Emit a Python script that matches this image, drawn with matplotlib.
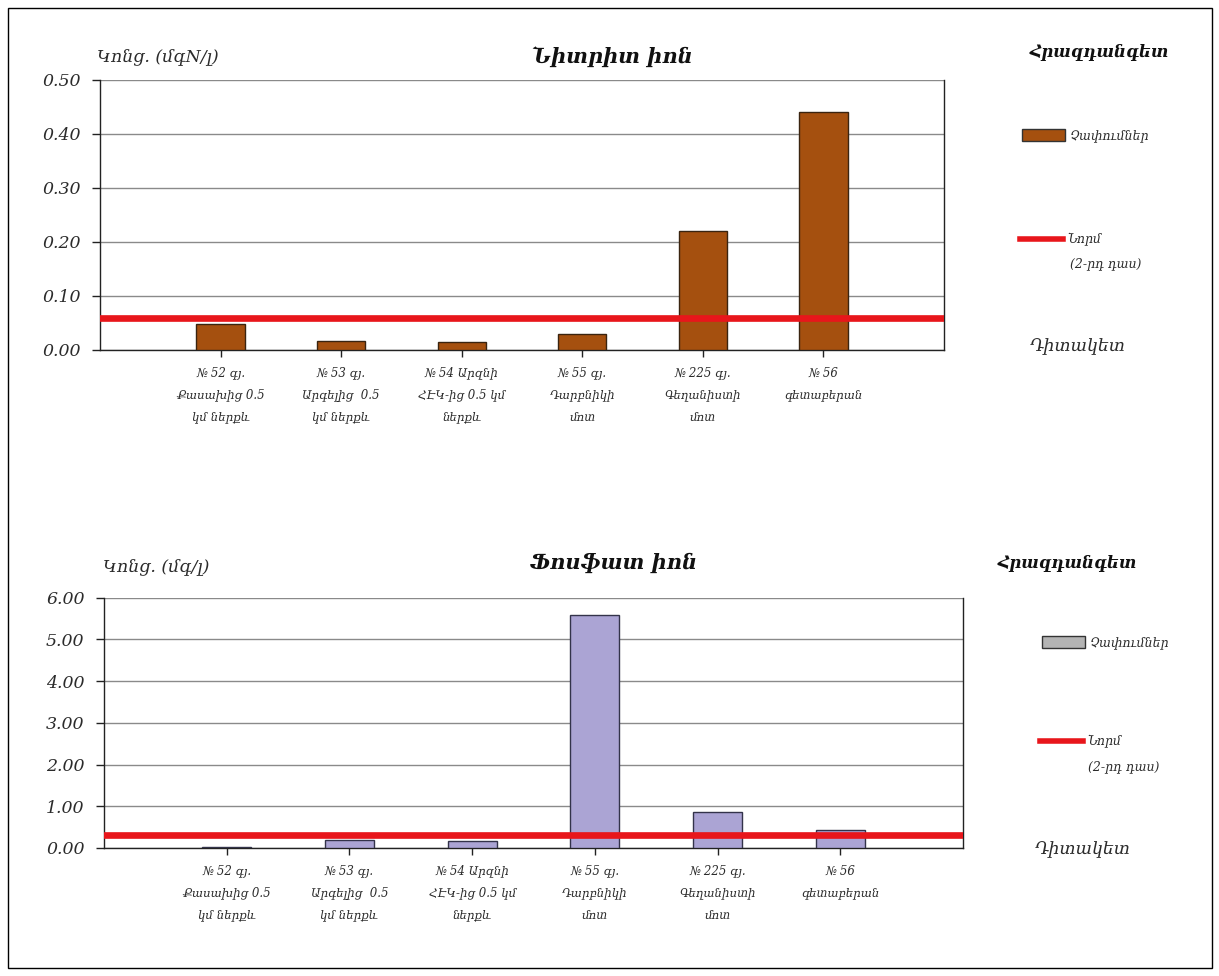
import numpy as np
import matplotlib
matplotlib.use("Agg")
import matplotlib.pyplot as plt
from matplotlib.patches import Rectangle, Patch
from matplotlib.lines import Line2D

plt.rcParams['font.family'] = ['DejaVu Serif', 'DejaVu Sans']

# Monitoring points along the Hrazdan river
stations = [
    "№ 52 գյ.\nՔասախից 0.5\nկմ ներքև",
    "№ 53 գյ.\nԱրգելից  0.5\nկմ ներքև",
    "№ 54 Արզնի\nՀԷԿ-ից 0.5 կմ\nներքև",
    "№ 55 գյ.\nԴարբնիկի\nմոտ",
    "№ 225 գյ.\nԳեղանիստի\nմոտ",
    "№ 56\nգետաբերան",
]

# Nitrite ion, mgN/l
nitrite = [0.048, 0.017, 0.014, 0.030, 0.22, 0.44]
nitrite_norm = 0.06
nitrite_ticks = [0.0, 0.1, 0.2, 0.3, 0.4, 0.5]

# Phosphate ion, mg/l
phosphate = [0.03, 0.20, 0.17, 5.58, 0.86, 0.42]
phosphate_norm = 0.30
phosphate_ticks = [0.0, 1.0, 2.0, 3.0, 4.0, 5.0, 6.0]

W, H = 1219, 976
fig = plt.figure(figsize=(W / 100, H / 100), dpi=100)
fig.patch.set_facecolor("white")

# outer frame
fig.patches.append(Rectangle((8 / W, 8 / H), 1204 / W, 960 / H, transform=fig.transFigure,
                             fill=False, edgecolor="black", linewidth=1.0))

TXT = "#2b2b2b"
RED = "#E8161B"


def fx(px):
    return px / W


def fy(py):
    return 1 - py / H


def panel(rect, values, norm, ticks, bar_color, bar_edge, title, ylabel,
          title_xy, ylabel_xy, legend_title_xy, legend_patch_color, legend_bar_xy,
          legend_norm_xy, norm_note_xy, xtitle_xy):
    ax = fig.add_axes(rect)
    x = np.arange(1, len(values) + 1)
    ax.bar(x, values, width=0.4, color=bar_color, edgecolor=bar_edge, linewidth=1.0, zorder=3)
    ax.axhline(norm, color=RED, linewidth=4.8, zorder=4)

    ax.set_xlim(0, len(values) + 1)
    ax.set_ylim(ticks[0], ticks[-1])
    ax.set_yticks(ticks)
    ax.set_yticklabels([f"{t:.2f}" for t in ticks], fontsize=12.5, style="italic", color=TXT)
    ax.set_xticks(x)
    ax.set_xticklabels(stations, fontsize=8.5, style="italic", color=TXT, linespacing=1.9)

    ax.yaxis.grid(True, color="#8a8a8a", linewidth=1.0, zorder=0)
    ax.set_axisbelow(True)
    ax.spines["top"].set_visible(False)
    for s in ("left", "bottom", "right"):
        ax.spines[s].set_color("#222222")
        ax.spines[s].set_linewidth(1.0)
    ax.tick_params(axis="y", direction="out", length=6, width=1, pad=8, color="#222222")
    ax.tick_params(axis="x", direction="out", length=5, width=1, pad=7, color="#222222")

    fig.text(fx(title_xy[0]), fy(title_xy[1]), title, ha="center", va="center",
             fontsize=15, fontweight="bold", style="italic", color="#111111")
    fig.text(fx(ylabel_xy[0]), fy(ylabel_xy[1]), ylabel, ha="left", va="center",
             fontsize=12.5, style="italic", color=TXT)
    fig.text(fx(legend_title_xy[0]), fy(legend_title_xy[1]), "Հրազդանգետ", ha="left", va="center",
             fontsize=12, fontweight="bold", style="italic", color="#111111")
    fig.text(fx(xtitle_xy[0]), fy(xtitle_xy[1]), "Դիտակետ", ha="left", va="center",
             fontsize=12.5, style="italic", color=TXT)

    bar_handle = Patch(facecolor=legend_patch_color, edgecolor="#333333", linewidth=1.0)
    leg1 = fig.legend([bar_handle], ["Չափումներ"], loc="center left",
                      bbox_to_anchor=(fx(legend_bar_xy[0]), fy(legend_bar_xy[1])),
                      frameon=False, handlelength=3.4, handleheight=1.1, handletextpad=0.4,
                      borderaxespad=0, borderpad=0,
                      prop={"size": 9, "style": "italic"})
    for t in leg1.get_texts():
        t.set_color(TXT)
    norm_handle = Line2D([], [], color=RED, linewidth=4.0)
    leg2 = fig.legend([norm_handle], ["Նորմ"], loc="center left",
                      bbox_to_anchor=(fx(legend_norm_xy[0]), fy(legend_norm_xy[1])),
                      frameon=False, handlelength=3.4, handletextpad=0.4,
                      borderaxespad=0, borderpad=0,
                      prop={"size": 9, "style": "italic"})
    for t in leg2.get_texts():
        t.set_color(TXT)
    fig.text(fx(norm_note_xy[0]), fy(norm_note_xy[1]), "(2-րդ դաս)", ha="left", va="center",
             fontsize=9, style="italic", color=TXT)
    return ax


panel([fx(100), fy(350), (944 - 100) / W, (350 - 80) / H],
      nitrite, nitrite_norm, nitrite_ticks, "#A5500F", "#3a2410",
      "Նիտրիտ իոն", "Կոնց. (մգN/լ)",
      title_xy=(612, 57), ylabel_xy=(97, 57), legend_title_xy=(1030, 52),
      legend_patch_color="#A5500F", legend_bar_xy=(1022, 136),
      legend_norm_xy=(1020, 240), norm_note_xy=(1070, 264), xtitle_xy=(1030, 347))

panel([fx(104), fy(848), (963 - 104) / W, (848 - 597.5) / H],
      phosphate, phosphate_norm, phosphate_ticks, "#ABA4D4", "#33334a",
      "Ֆոսֆատ իոն", "Կոնց. (մգ/լ)",
      title_xy=(614, 563), ylabel_xy=(103, 567), legend_title_xy=(998, 563),
      legend_patch_color="#B4B4B4", legend_bar_xy=(1042, 643),
      legend_norm_xy=(1040, 742), norm_note_xy=(1088, 767), xtitle_xy=(1035, 850))

fig.savefig("out.png", dpi=100, facecolor="white")
